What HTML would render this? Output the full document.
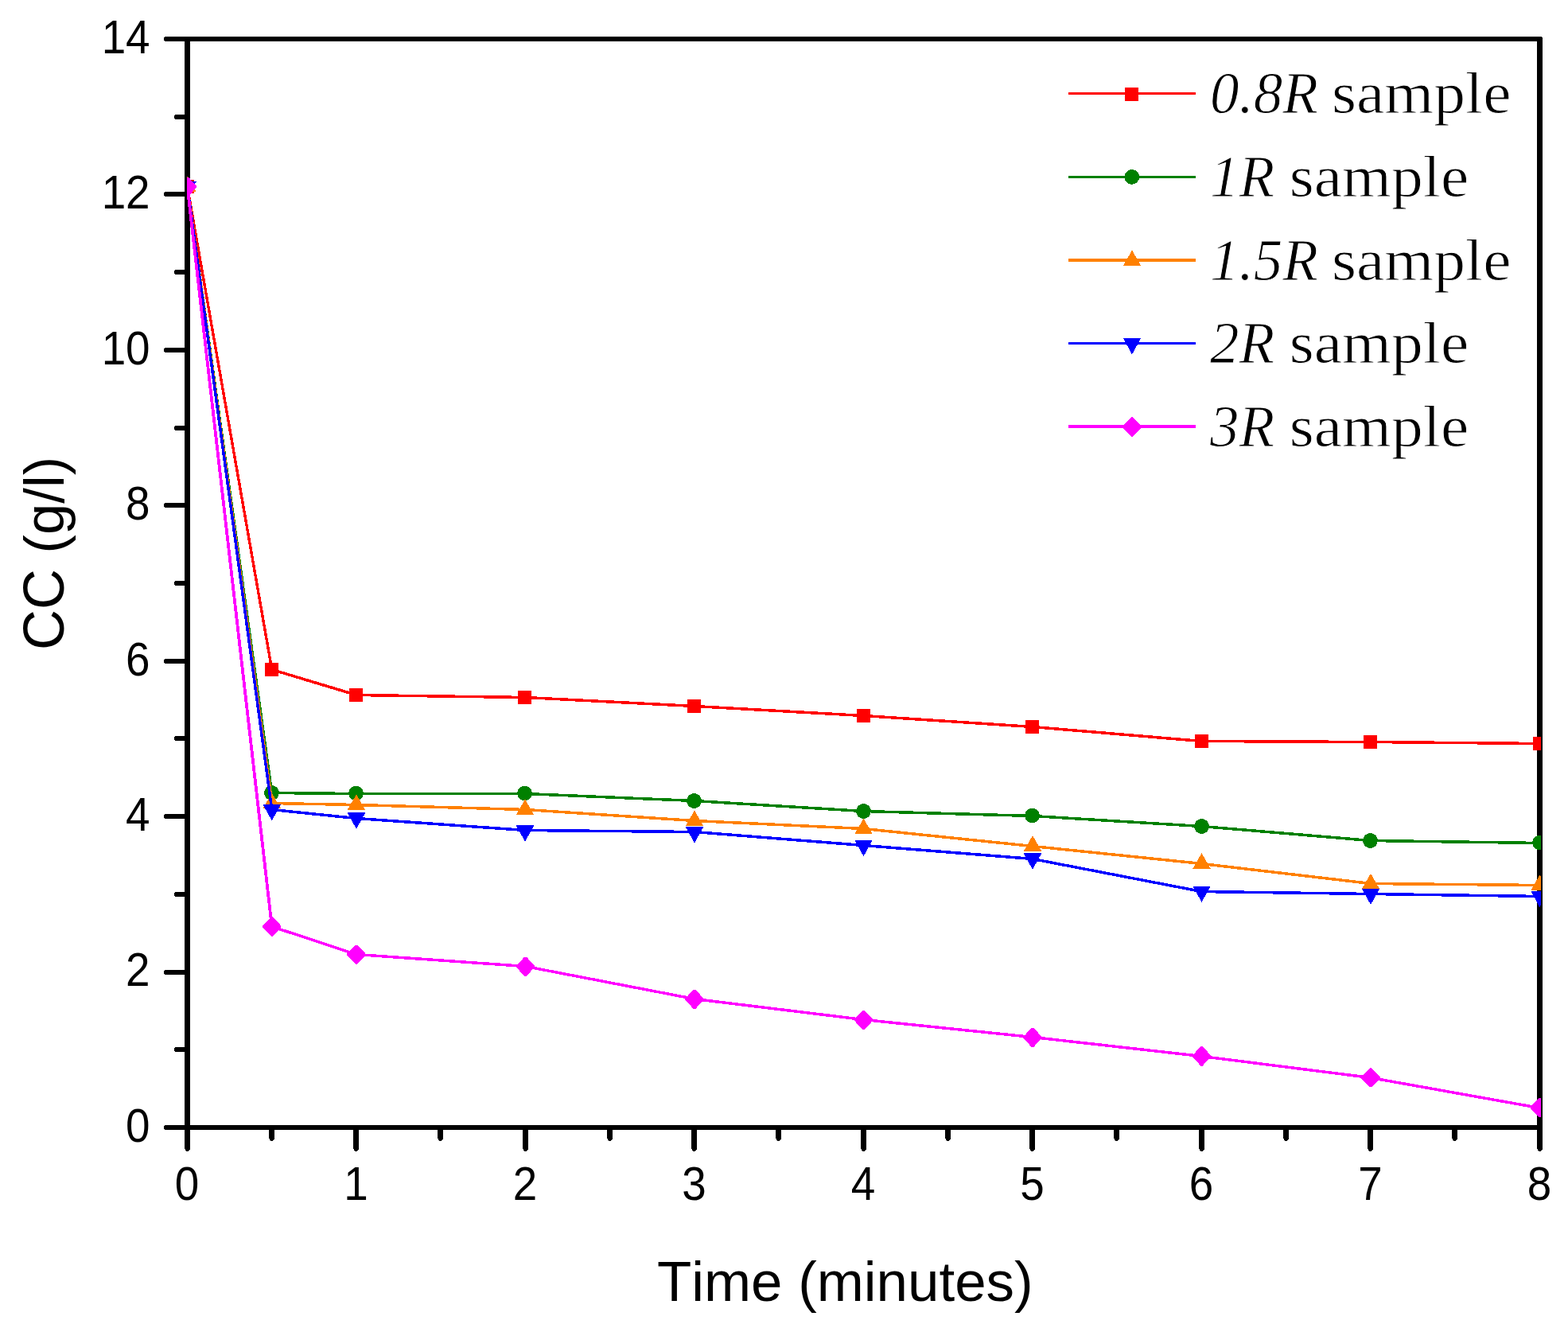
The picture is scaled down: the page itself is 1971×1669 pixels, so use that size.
<!DOCTYPE html>
<html lang="en"><head><meta charset="utf-8"><title>CC vs Time</title>
<style>
html,body{margin:0;padding:0;background:#fff;}
body{width:1971px;height:1669px;overflow:hidden;}
svg{display:block;}
text{font-kerning:none;font-variant-ligatures:none;white-space:pre;}
.tk{font-family:"Liberation Sans",Arial,Helvetica,sans-serif;font-size:56.8px;fill:#000;}
.ax{font-family:"Liberation Sans",Arial,Helvetica,sans-serif;font-size:70.9px;fill:#000;}
.lg{font-family:"Liberation Serif","Times New Roman",serif;font-size:73.0px;fill:#000;}
.lg{stroke:#fff;stroke-width:0.9px;stroke-linejoin:round;}
.it{font-style:italic;}
</style></head><body>
<svg width="1971" height="1669" viewBox="0 0 1971 1669">
<rect width="1971" height="1669" fill="#fff"/>
<g fill="#000" shape-rendering="crispEdges">
<rect x="232" y="46" width="7" height="1374"/>
<rect x="1932" y="47" width="7" height="1373"/>
<rect x="232" y="46" width="1706" height="6"/>
<rect x="232" y="1414" width="1707" height="6"/>
</g>
<g fill="#000" shape-rendering="crispEdges">
<polygon points="232,1417 232,1444 233,1445 233,1446 234,1446 234,1447 237,1447 237,1446 238,1446 238,1445 239,1444 239,1417"/>
<polygon points="338,1417 338,1431 339,1432 339,1433 340,1433 340,1434 343,1434 343,1433 344,1433 344,1432 345,1431 345,1417"/>
<polygon points="444,1417 444,1444 445,1445 445,1446 446,1446 446,1447 449,1447 449,1446 450,1446 450,1445 451,1444 451,1417"/>
<polygon points="550,1417 550,1431 551,1432 551,1433 552,1433 552,1434 555,1434 555,1433 556,1433 556,1432 557,1431 557,1417"/>
<polygon points="657,1417 657,1444 658,1445 658,1446 659,1446 659,1447 662,1447 662,1446 663,1446 663,1445 664,1444 664,1417"/>
<polygon points="763,1417 763,1431 764,1432 764,1433 765,1433 765,1434 768,1434 768,1433 769,1433 769,1432 770,1431 770,1417"/>
<polygon points="869,1417 869,1444 870,1445 870,1446 871,1446 871,1447 874,1447 874,1446 875,1446 875,1445 876,1444 876,1417"/>
<polygon points="975,1417 975,1431 976,1432 976,1433 977,1433 977,1434 980,1434 980,1433 981,1433 981,1432 982,1431 982,1417"/>
<polygon points="1082,1417 1082,1444 1083,1445 1083,1446 1084,1446 1084,1447 1087,1447 1087,1446 1088,1446 1088,1445 1089,1444 1089,1417"/>
<polygon points="1188,1417 1188,1431 1189,1432 1189,1433 1190,1433 1190,1434 1193,1434 1193,1433 1194,1433 1194,1432 1195,1431 1195,1417"/>
<polygon points="1294,1417 1294,1444 1295,1445 1295,1446 1296,1446 1296,1447 1299,1447 1299,1446 1300,1446 1300,1445 1301,1444 1301,1417"/>
<polygon points="1400,1417 1400,1431 1401,1432 1401,1433 1402,1433 1402,1434 1405,1434 1405,1433 1406,1433 1406,1432 1407,1431 1407,1417"/>
<polygon points="1507,1417 1507,1444 1508,1445 1508,1446 1509,1446 1509,1447 1512,1447 1512,1446 1513,1446 1513,1445 1514,1444 1514,1417"/>
<polygon points="1613,1417 1613,1431 1614,1432 1614,1433 1615,1433 1615,1434 1618,1434 1618,1433 1619,1433 1619,1432 1620,1431 1620,1417"/>
<polygon points="1719,1417 1719,1444 1720,1445 1720,1446 1721,1446 1721,1447 1724,1447 1724,1446 1725,1446 1725,1445 1726,1444 1726,1417"/>
<polygon points="1825,1417 1825,1431 1826,1432 1826,1433 1827,1433 1827,1434 1830,1434 1830,1433 1831,1433 1831,1432 1832,1431 1832,1417"/>
<polygon points="1932,1417 1932,1444 1933,1445 1933,1446 1934,1446 1934,1447 1937,1447 1937,1446 1938,1446 1938,1445 1939,1444 1939,1417"/>
<polygon points="235,1414 207,1414 207,1415 206,1415 206,1419 207,1419 207,1420 235,1420"/>
<polygon points="235,1316 220,1316 220,1317 219,1317 219,1321 220,1321 220,1322 235,1322"/>
<polygon points="235,1219 207,1219 207,1220 206,1220 206,1224 207,1224 207,1225 235,1225"/>
<polygon points="235,1121 220,1121 220,1122 219,1122 219,1126 220,1126 220,1127 235,1127"/>
<polygon points="235,1023 207,1023 207,1024 206,1024 206,1028 207,1028 207,1029 235,1029"/>
<polygon points="235,925 220,925 220,926 219,926 219,930 220,930 220,931 235,931"/>
<polygon points="235,828 207,828 207,829 206,829 206,833 207,833 207,834 235,834"/>
<polygon points="235,730 220,730 220,731 219,731 219,735 220,735 220,736 235,736"/>
<polygon points="235,632 207,632 207,633 206,633 206,637 207,637 207,638 235,638"/>
<polygon points="235,535 220,535 220,536 219,536 219,540 220,540 220,541 235,541"/>
<polygon points="235,437 207,437 207,438 206,438 206,442 207,442 207,443 235,443"/>
<polygon points="235,339 220,339 220,340 219,340 219,344 220,344 220,345 235,345"/>
<polygon points="235,241 207,241 207,242 206,242 206,246 207,246 207,247 235,247"/>
<polygon points="235,144 220,144 220,145 219,145 219,149 220,149 220,150 235,150"/>
<polygon points="235,46 207,46 207,47 206,47 206,51 207,51 207,52 235,52"/>
</g>
<text class="tk" transform="translate(235.10 1507.90) scale(0.9650 1.0350)" text-anchor="middle">0</text>
<text class="tk" transform="translate(447.60 1507.90) scale(0.9650 1.0350)" text-anchor="middle">1</text>
<text class="tk" transform="translate(660.10 1507.90) scale(0.9650 1.0350)" text-anchor="middle">2</text>
<text class="tk" transform="translate(872.60 1507.90) scale(0.9650 1.0350)" text-anchor="middle">3</text>
<text class="tk" transform="translate(1085.10 1507.90) scale(0.9650 1.0350)" text-anchor="middle">4</text>
<text class="tk" transform="translate(1297.60 1507.90) scale(0.9650 1.0350)" text-anchor="middle">5</text>
<text class="tk" transform="translate(1510.10 1507.90) scale(0.9650 1.0350)" text-anchor="middle">6</text>
<text class="tk" transform="translate(1722.60 1507.90) scale(0.9650 1.0350)" text-anchor="middle">7</text>
<text class="tk" transform="translate(1935.10 1507.90) scale(0.9650 1.0350)" text-anchor="middle">8</text>
<text class="tk" transform="translate(188.60 1434.90) scale(0.9650 1.0350)" text-anchor="end">0</text>
<text class="tk" transform="translate(188.60 1239.47) scale(0.9650 1.0350)" text-anchor="end">2</text>
<text class="tk" transform="translate(188.60 1044.04) scale(0.9650 1.0350)" text-anchor="end">4</text>
<text class="tk" transform="translate(188.60 848.61) scale(0.9650 1.0350)" text-anchor="end">6</text>
<text class="tk" transform="translate(188.60 653.19) scale(0.9650 1.0350)" text-anchor="end">8</text>
<text class="tk" transform="translate(188.60 457.76) scale(0.9650 1.0350)" text-anchor="end">10</text>
<text class="tk" transform="translate(188.60 262.33) scale(0.9650 1.0350)" text-anchor="end">12</text>
<text class="tk" transform="translate(188.60 66.90) scale(0.9650 1.0350)" text-anchor="end">14</text>
<text class="ax" transform="translate(1062.30 1635.00) scale(1.0000 1.0000)" text-anchor="middle">Time (minutes)</text>
<g transform="translate(80.1 817.0) rotate(-90)" style="font-size:70.6px">
<text class="ax" style="font-size:70.6px" transform="scale(1 1.025)" x="0" y="0">CC</text>
<text class="ax" style="font-size:70.6px" x="121.59" y="0">(g/l)</text>
</g>
<defs><clipPath id="pc"><rect x="235" y="40" width="1702" height="1385"/></clipPath></defs>
<g clip-path="url(#pc)" shape-rendering="crispEdges">
<polyline points="235.50,234.50 341.75,841.50" fill="none" stroke="#ff0000" stroke-width="3.4"/>
<polyline points="341.75,841.50 448.00,873.50 660.50,876.50 873.00,887.50 1085.50,899.50 1298.00,913.50 1510.50,931.50 1723.00,932.50 1935.50,934.50" fill="none" stroke="#ff0000" stroke-width="3.5" stroke-linejoin="round"/>
<rect x="227.00" y="226.10" width="17.00" height="17.00" fill="#ff0000"/>
<rect x="332.75" y="832.90" width="17.00" height="17.00" fill="#ff0000"/>
<rect x="439.00" y="865.00" width="17.00" height="17.00" fill="#ff0000"/>
<rect x="651.00" y="867.80" width="17.00" height="17.00" fill="#ff0000"/>
<rect x="864.00" y="879.00" width="17.00" height="17.00" fill="#ff0000"/>
<rect x="1077.00" y="890.80" width="17.00" height="17.00" fill="#ff0000"/>
<rect x="1289.00" y="904.80" width="17.00" height="17.00" fill="#ff0000"/>
<rect x="1502.00" y="923.20" width="17.00" height="17.00" fill="#ff0000"/>
<rect x="1714.00" y="923.50" width="17.00" height="17.00" fill="#ff0000"/>
<rect x="1927.00" y="926.00" width="17.00" height="17.00" fill="#ff0000"/>
<polyline points="235.50,234.50 341.75,996.50" fill="none" stroke="#008000" stroke-width="3.4"/>
<polyline points="341.75,996.50 448.00,997.50 660.50,997.50 873.00,1006.50 1085.50,1019.50 1298.00,1025.50 1510.50,1038.50 1723.00,1056.50 1935.50,1059.50" fill="none" stroke="#008000" stroke-width="3.5" stroke-linejoin="round"/>
<circle cx="235.50" cy="234.50" r="9.4" fill="#008000"/>
<circle cx="341.50" cy="996.50" r="9.4" fill="#008000"/>
<circle cx="447.50" cy="997.00" r="9.4" fill="#008000"/>
<circle cx="659.50" cy="997.00" r="9.4" fill="#008000"/>
<circle cx="872.50" cy="1006.50" r="9.4" fill="#008000"/>
<circle cx="1085.50" cy="1019.50" r="9.4" fill="#008000"/>
<circle cx="1297.50" cy="1025.00" r="9.4" fill="#008000"/>
<circle cx="1510.50" cy="1038.50" r="9.4" fill="#008000"/>
<circle cx="1722.50" cy="1056.50" r="9.4" fill="#008000"/>
<circle cx="1935.50" cy="1059.00" r="9.4" fill="#008000"/>
<polyline points="235.50,234.50 341.75,1009.50" fill="none" stroke="#ff8000" stroke-width="3.8"/>
<polyline points="341.75,1009.50 448.00,1011.50 660.50,1017.50 873.00,1031.50 1085.50,1041.50 1298.00,1063.50 1510.50,1085.50 1723.00,1110.50 1935.50,1112.50" fill="none" stroke="#ff8000" stroke-width="3.5" stroke-linejoin="round"/>
<polygon points="235.50,221.50 246.80,241.20 224.20,241.20" fill="#ff8000"/>
<polygon points="341.75,996.60 353.05,1016.30 330.45,1016.30" fill="#ff8000"/>
<polygon points="448.00,998.20 459.30,1017.90 436.70,1017.90" fill="#ff8000"/>
<polygon points="660.00,1004.60 671.30,1024.30 648.70,1024.30" fill="#ff8000"/>
<polygon points="873.00,1018.60 884.30,1038.30 861.70,1038.30" fill="#ff8000"/>
<polygon points="1085.50,1028.70 1096.80,1048.40 1074.20,1048.40" fill="#ff8000"/>
<polygon points="1298.00,1050.10 1309.30,1069.80 1286.70,1069.80" fill="#ff8000"/>
<polygon points="1510.50,1072.20 1521.80,1091.90 1499.20,1091.90" fill="#ff8000"/>
<polygon points="1723.00,1097.80 1734.30,1117.50 1711.70,1117.50" fill="#ff8000"/>
<polygon points="1935.50,1099.50 1946.80,1119.20 1924.20,1119.20" fill="#ff8000"/>
<polyline points="235.50,234.50 341.75,1017.50" fill="none" stroke="#0000ff" stroke-width="3.5"/>
<polyline points="341.75,1017.50 448.00,1028.50 660.50,1043.50 873.00,1045.50 1085.50,1062.50 1298.00,1079.50 1510.50,1120.50 1723.00,1123.50 1935.50,1126.50" fill="none" stroke="#0000ff" stroke-width="3.5" stroke-linejoin="round"/>
<polygon points="235.50,248.40 246.80,228.00 224.20,228.00" fill="#0000ff"/>
<polygon points="341.75,1031.40 353.05,1011.00 330.45,1011.00" fill="#0000ff"/>
<polygon points="448.00,1041.80 459.30,1021.40 436.70,1021.40" fill="#0000ff"/>
<polygon points="660.00,1057.70 671.30,1037.30 648.70,1037.30" fill="#0000ff"/>
<polygon points="873.00,1059.60 884.30,1039.20 861.70,1039.20" fill="#0000ff"/>
<polygon points="1085.50,1076.20 1096.80,1055.80 1074.20,1055.80" fill="#0000ff"/>
<polygon points="1298.00,1092.80 1309.30,1072.40 1286.70,1072.40" fill="#0000ff"/>
<polygon points="1510.50,1133.90 1521.80,1113.50 1499.20,1113.50" fill="#0000ff"/>
<polygon points="1723.00,1137.10 1734.30,1116.70 1711.70,1116.70" fill="#0000ff"/>
<polygon points="1935.50,1140.30 1946.80,1119.90 1924.20,1119.90" fill="#0000ff"/>
<polyline points="235.50,234.50 341.75,1164.50" fill="none" stroke="#ff00ff" stroke-width="3.8"/>
<polyline points="341.75,1164.50 448.00,1199.50 660.50,1214.50 873.00,1255.50 1085.50,1281.50 1298.00,1303.50 1510.50,1327.50 1723.00,1354.50 1935.50,1392.50" fill="none" stroke="#ff00ff" stroke-width="3.5" stroke-linejoin="round"/>
<polygon points="234.40,222.50 236.60,222.50 247.10,233.50 247.10,235.70 236.60,246.70 234.40,246.70 223.90,235.70 223.90,233.50" fill="#ff00ff"/>
<polygon points="340.65,1152.40 342.85,1152.40 353.35,1163.40 353.35,1165.60 342.85,1176.60 340.65,1176.60 330.15,1165.60 330.15,1163.40" fill="#ff00ff"/>
<polygon points="446.90,1187.60 449.10,1187.60 459.60,1198.60 459.60,1200.80 449.10,1211.80 446.90,1211.80 436.40,1200.80 436.40,1198.60" fill="#ff00ff"/>
<polygon points="659.40,1202.50 661.60,1202.50 672.10,1213.50 672.10,1215.70 661.60,1226.70 659.40,1226.70 648.90,1215.70 648.90,1213.50" fill="#ff00ff"/>
<polygon points="871.90,1243.80 874.10,1243.80 884.60,1254.80 884.60,1257.00 874.10,1268.00 871.90,1268.00 861.40,1257.00 861.40,1254.80" fill="#ff00ff"/>
<polygon points="1084.40,1269.60 1086.60,1269.60 1097.10,1280.60 1097.10,1282.80 1086.60,1293.80 1084.40,1293.80 1073.90,1282.80 1073.90,1280.60" fill="#ff00ff"/>
<polygon points="1296.90,1291.80 1299.10,1291.80 1309.60,1302.80 1309.60,1305.00 1299.10,1316.00 1296.90,1316.00 1286.40,1305.00 1286.40,1302.80" fill="#ff00ff"/>
<polygon points="1509.40,1315.30 1511.60,1315.30 1522.10,1326.30 1522.10,1328.50 1511.60,1339.50 1509.40,1339.50 1498.90,1328.50 1498.90,1326.30" fill="#ff00ff"/>
<polygon points="1721.90,1342.20 1724.10,1342.20 1734.60,1353.20 1734.60,1355.40 1724.10,1366.40 1721.90,1366.40 1711.40,1355.40 1711.40,1353.20" fill="#ff00ff"/>
<polygon points="1934.40,1380.00 1936.60,1380.00 1947.10,1391.00 1947.10,1393.20 1936.60,1404.20 1934.40,1404.20 1923.90,1393.20 1923.90,1391.00" fill="#ff00ff"/>
</g>
<g shape-rendering="crispEdges">
<rect x="1343" y="116" width="160" height="3" fill="#ff0000"/>
<rect x="1414.00" y="110.00" width="17.00" height="17.00" fill="#ff0000"/>
</g>
<text class="lg it" transform="translate(1520.90 142.40) scale(1.0000 1.0000)" text-anchor="start">0.8R</text>
<text class="lg" transform="translate(1674.03 142.40) scale(1.0907 1.0000)" text-anchor="start">sample</text>
<g shape-rendering="crispEdges">
<rect x="1343" y="221" width="160" height="3" fill="#008000"/>
<circle cx="1422.80" cy="222.40" r="9.4" fill="#008000"/>
</g>
<text class="lg it" transform="translate(1520.90 247.20) scale(1.0000 1.0000)" text-anchor="start">1R</text>
<text class="lg" transform="translate(1620.73 247.20) scale(1.0907 1.0000)" text-anchor="start">sample</text>
<g shape-rendering="crispEdges">
<rect x="1343" y="325" width="160" height="4" fill="#ff8000"/>
<polygon points="1423.00,314.50 1434.30,334.20 1411.70,334.20" fill="#ff8000"/>
</g>
<text class="lg it" transform="translate(1520.90 351.60) scale(1.0000 1.0000)" text-anchor="start">1.5R</text>
<text class="lg" transform="translate(1674.03 351.60) scale(1.0907 1.0000)" text-anchor="start">sample</text>
<g shape-rendering="crispEdges">
<rect x="1343" y="430" width="160" height="3" fill="#0000ff"/>
<polygon points="1423.00,445.40 1434.30,425.00 1411.70,425.00" fill="#0000ff"/>
</g>
<text class="lg it" transform="translate(1520.90 455.90) scale(1.0000 1.0000)" text-anchor="start">2R</text>
<text class="lg" transform="translate(1620.73 455.90) scale(1.0907 1.0000)" text-anchor="start">sample</text>
<g shape-rendering="crispEdges">
<rect x="1343" y="534" width="160" height="4" fill="#ff00ff"/>
<polygon points="1421.90,524.40 1424.10,524.40 1434.60,535.40 1434.60,537.60 1424.10,548.60 1421.90,548.60 1411.40,537.60 1411.40,535.40" fill="#ff00ff"/>
</g>
<text class="lg it" transform="translate(1520.90 560.50) scale(1.0000 1.0000)" text-anchor="start">3R</text>
<text class="lg" transform="translate(1620.73 560.50) scale(1.0907 1.0000)" text-anchor="start">sample</text>
</svg>
</body></html>
